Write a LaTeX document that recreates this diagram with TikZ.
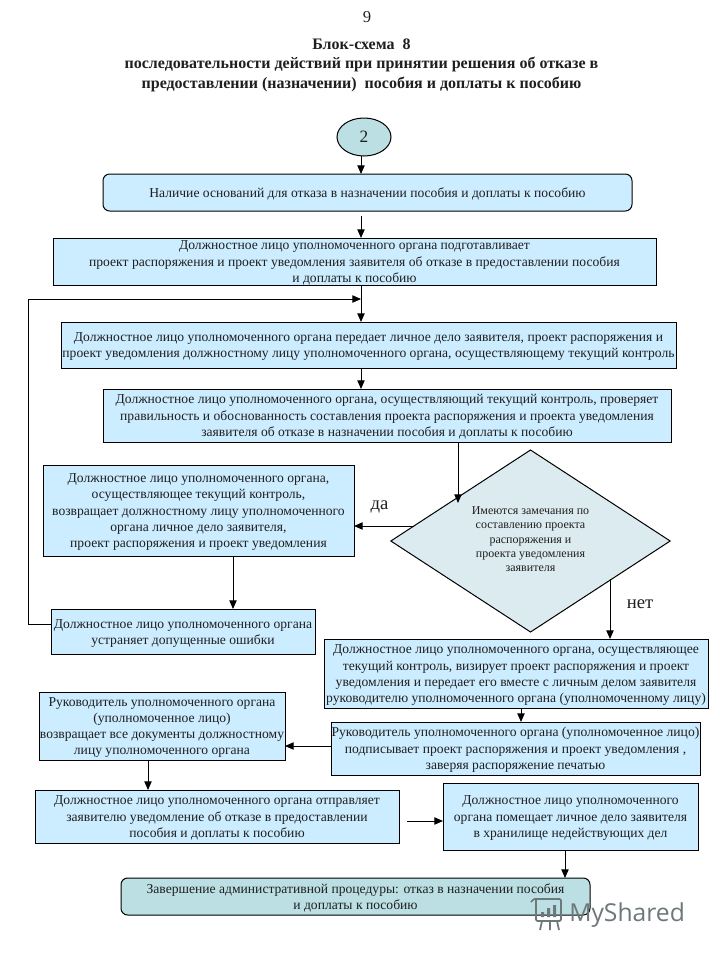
\documentclass[tikz,border=0pt]{standalone}
\usepackage{fontspec}
\setmainfont{Liberation Serif}
\newfontfamily\wmfont{Open Sans}
\usetikzlibrary{fit,calc,arrows.meta,shapes.geometric}
\definecolor{boxblue}{HTML}{CCECFF}
\definecolor{dmd}{HTML}{DCEBEF}
\definecolor{endc}{HTML}{BBDFE3}
\definecolor{wmg}{HTML}{6E787A}
\newcommand\lns[1]{\makebox[0pt][c]{\smash{\raisebox{-0.35em}{\begin{tabular}[c]{@{}c@{}}#1\end{tabular}}}}}
\newcommand\bx[7][plainbox]{\node[#1,fit={(#3,#4)(#5,#6)}] (#2) {\lns{#7}};}
\tikzset{
  plainbox/.style={draw=black,fill=boxblue,line width=.75pt,inner sep=0pt,outer sep=0pt,rectangle,
    font=\fontsize{10.2}{12.15}\selectfont,text=black!88},
  roundbox/.style={plainbox,rounded corners=5pt},
  endbox/.style={roundbox,fill=endc},
  arr/.style={line width=.75pt,-{Triangle[length=6.5pt,width=5.5pt]}},
  side/.style={font=\fontsize{14}{16}\selectfont,text=black!88,inner sep=0pt},
}
\begin{document}
\begin{tikzpicture}[x=0.75pt,y=-0.75pt]
\useasboundingbox (0,0) rectangle (720,960);
\fill[white] (0,0) rectangle (720,960);
\node[font=\fontsize{12.5}{14}\selectfont,text=black!88,inner sep=0pt] (page) at (367,17) {9};
\node[font=\bfseries\fontsize{12}{14.6}\selectfont,align=center,inner sep=0pt,text=black!88] (title) at (361.5,65)
  {Блок-схема\ \ 8\\последовательности действий при принятии решения об отказе в\\предоставлении (назначении)\ \ пособия и доплаты к пособию};
\node[draw=black,fill=endc,line width=.75pt,ellipse,minimum width=40.5pt,minimum height=28.5pt,inner sep=0pt,outer sep=0pt,
  font=\fontsize{13}{15}\selectfont,text=black!88] (cir) at (364,137) {2};
\bx[roundbox]{b1}{103}{174}{632}{211}{Наличие оснований для отказа в назначении пособия и доплаты к пособию}
\bx{b2}{53}{238}{656}{285}{Должностное лицо уполномоченного органа подготавливает\\проект распоряжения и проект уведомления заявителя об отказе в предоставлении пособия\\и доплаты к пособию}
\bx{b3}{61}{322}{676}{368}{Должностное лицо уполномоченного органа передает личное дело заявителя, проект распоряжения и\\проект уведомления должностному лицу уполномоченного органа, осуществляющему текущий контроль}
\bx{b4}{103}{389}{671}{442}{Должностное лицо уполномоченного органа, осуществляющий текущий контроль, проверяет\\правильность и обоснованность составления проекта распоряжения и проекта уведомления\\заявителя об отказе в назначении пособия и доплаты к пособию}
\node[draw=black,fill=dmd,line width=.75pt,diamond,minimum width=209.5pt,minimum height=136.5pt,inner sep=0pt,outer sep=0pt,
  font=\fontsize{9}{10.8}\selectfont,text=black!88] (d) at (530.5,541) {\raisebox{3pt}{\lns{Имеются замечания по\\составлению проекта\\распоряжения и\\проекта уведомления\\заявителя}}};
\bx{b5}{43}{465}{354}{556}{Должностное лицо уполномоченного органа,\\осуществляющее текущий контроль,\\возвращает должностному лицу уполномоченного\\органа личное дело заявителя,\\проект распоряжения и проект уведомления}
\bx{fix}{51}{609}{315}{654}{Должностное лицо уполномоченного органа\\устраняет допущенные ошибки}
\bx{b6}{324}{639}{708}{708}{Должностное лицо уполномоченного органа, осуществляющее\\текущий контроль, визирует проект распоряжения и проект\\уведомления и передает его вместе с личным делом заявителя\\руководителю уполномоченного органа (уполномоченному лицу)}
\bx{b7}{331}{722}{700}{775}{Руководитель уполномоченного органа (уполномоченное лицо)\\подписывает проект распоряжения и проект уведомления ,\\заверяя распоряжение печатью}
\bx{b8}{39}{692}{285}{760}{Руководитель уполномоченного органа\\(уполномоченное лицо)\\возвращает все документы должностному\\лицу уполномоченного органа}
\bx{b9}{35}{790}{399}{843}{Должностное лицо уполномоченного органа отправляет\\заявителю уведомление об отказе в предоставлении\\пособия и доплаты к пособию}
\bx{b10}{443}{783}{698}{850}{Должностное лицо уполномоченного\\органа помещает личное дело заявителя\\в хранилище недействующих дел}
\bx[endbox]{b11}{121}{878}{590}{915}{Завершение административной процедуры: отказ в назначении пособия\\и доплаты к пособию}
\node[side] (yes) at (379.5,506.5) {да};
\node[side] (no) at (640,604.5) {нет};
% guide coordinates
\coordinate (xa) at (361,0);
\coordinate (xd) at (458,0);
\coordinate (xn) at (610,0);
\coordinate (x5) at (233,0);
\coordinate (x6) at (521,0);
\coordinate (x8) at (148,0);
\coordinate (x10) at (565,0);
\coordinate (yy) at (0,526);
\coordinate (y7) at (0,746);
\coordinate (y9) at (0,821);
\coordinate (fy) at (0,624);
\coordinate (fl) at (28,299);
\coordinate (fc) at (361,299);
\coordinate (dtip) at (458,503);
\coordinate (dno) at (610,579);
\coordinate (dyes) at (414,526);
\coordinate (s1) at (361,216);
\coordinate (s9) at (407,821);
% connectors
\draw[arr] (cir.south -| xa) -- (b1.north -| xa);
\draw[arr] (s1) -- (b2.north -| xa);
\draw[arr] (b2.south -| xa) -- (b3.north -| xa);
\draw[arr] (fix.west |- fy) -- (fl |- fy) -- (fl) -- (fc);
\draw[arr] (b3.south -| xa) -- (b4.north -| xa);
\draw[arr] (b4.south -| xd) -- (dtip);
\draw[arr] (dyes) -- (b5.east |- yy);
\draw[arr] (dno) -- (b6.north -| xn);
\draw[arr] (b5.south -| x5) -- (fix.north -| x5);
\draw[arr] (b6.south -| x6) -- (b7.north -| x6);
\draw[arr] (b7.west |- y7) -- (b8.east |- y7);
\draw[arr] (b8.south -| x8) -- (b9.north -| x8);
\draw[arr] (s9) -- (b10.west |- y9);
\draw[arr] (b10.south -| x10) -- (b11.north -| x10);
% watermark
\begin{scope}[wmg,line width=1.3pt]
\draw[rounded corners=1pt] (534,899) -- (561,899) -- (561,921) -- (536,921) -- (536,899);
\draw (531,902) -- (534,899);
\draw (542,921) -- (540,930) (550,921) -- (550,930) (557,921) -- (559,930);
\fill (541,912) rectangle (544,917) (547,908) rectangle (550,917) (553,905) rectangle (556,917);
\end{scope}
\node[font=\wmfont\fontsize{18.5}{22}\selectfont,text=wmg,anchor=west,inner sep=0pt] (wm) at (569,915) {MyShared};
\end{tikzpicture}
\end{document}
